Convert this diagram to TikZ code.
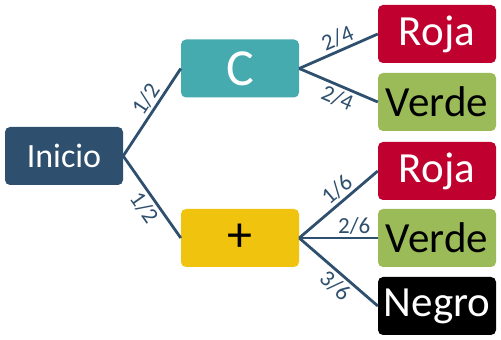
\documentclass[tikz,border=0pt]{standalone}
\usepackage{fontspec}
\setmainfont{Carlito}
\usetikzlibrary{positioning}

\definecolor{slateblue}{RGB}{47,79,110}
\definecolor{tealbox}{RGB}{69,171,175}
\definecolor{yellowbox}{RGB}{240,195,15}
\definecolor{redbox}{RGB}{192,0,46}
\definecolor{greenbox}{RGB}{155,187,89}

\begin{document}
\begin{tikzpicture}[x=1pt,y=1pt,
    box/.style={rectangle,rounded corners=5pt,minimum width=118pt,minimum height=58pt,inner sep=0pt,font=\fontsize{43}{43}\selectfont},
    branch/.style={line width=2.8pt,draw=slateblue},
    prob/.style={sloped,inner sep=2.5pt,text=slateblue,font=\fontsize{23}{23}\selectfont}]
    \useasboundingbox (0,0) rectangle (501,340);

    \node[box,fill=slateblue,text=white,font=\fontsize{34}{34}\selectfont] (start) at (64,184) {Inicio};
    \node[box,fill=tealbox,text=white,font=\fontsize{52}{52}\selectfont] (c) at (240,271.5) {C};
    \node[box,fill=yellowbox,text=black,font=\fontsize{50}{50}\selectfont] (plus) at (240,102) {+};

    \node[box,fill=redbox,text=white] (roja1) at (437,306) {Roja};
    \node[box,fill=greenbox,text=black] (verde1) at (437,238) {Verde};
    \node[box,fill=redbox,text=white] (roja2) at (437,169) {Roja};
    \node[box,fill=greenbox,text=black] (verde2) at (437,102) {Verde};
    \node[box,fill=black,text=white] (negro) at (437,34) {Negro};

    \draw[branch] (start.east) -- node[prob,above,pos=0.57] {1/2} (c.west);
    \draw[branch] (start.east) -- node[prob,below,pos=0.54] {1/2} (plus.west);

    \draw[branch] (c.east) -- node[prob,above,pos=0.55] {2/4} (roja1.west);
    \draw[branch] (c.east) -- node[prob,below,pos=0.55] {2/4} (verde1.west);

    \draw[branch] (plus.east) -- node[prob,above,pos=0.58] {1/6} (roja2.west);
    \draw[branch] (plus.east) -- node[prob,above,pos=0.7] {2/6} (verde2.west);
    \draw[branch] (plus.east) -- node[prob,below,pos=0.56] {3/6} (negro.west);
\end{tikzpicture}
\end{document}
